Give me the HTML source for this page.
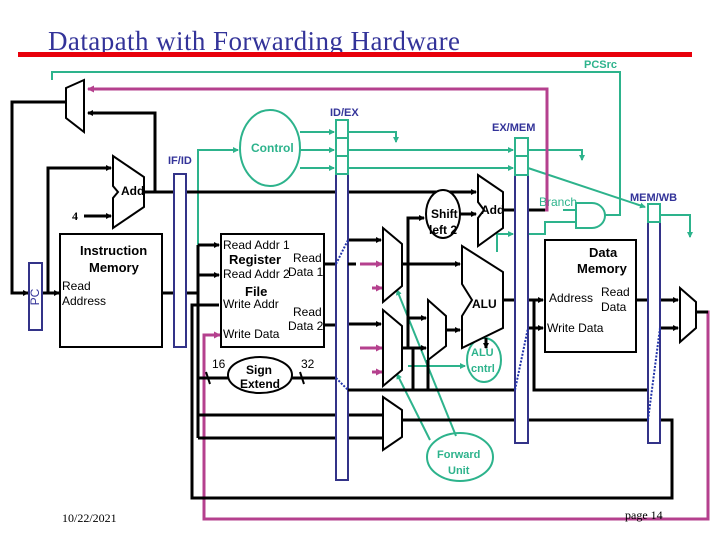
<!DOCTYPE html>
<html><head><meta charset="utf-8"><style>
body{margin:0;background:#fff}
svg{display:block}
text{font-family:"Liberation Sans",sans-serif}
</style></head><body>
<svg width="720" height="540" viewBox="0 0 720 540" xmlns="http://www.w3.org/2000/svg">
<defs>
<marker id="a" markerWidth="6" markerHeight="6" refX="5" refY="3" orient="auto" markerUnits="userSpaceOnUse"><path d="M0,0 L6,3 L0,6z" fill="#000"/></marker>
<marker id="t" markerWidth="6" markerHeight="6" refX="5" refY="3" orient="auto" markerUnits="userSpaceOnUse"><path d="M0,0 L6,3 L0,6z" fill="#2db38c"/></marker>
<marker id="p" markerWidth="7" markerHeight="7" refX="6" refY="3.5" orient="auto" markerUnits="userSpaceOnUse"><path d="M0,0 L7,3.5 L0,7z" fill="#b5408e"/></marker>
</defs>
<text x="48" y="50" font-size="27" fill="#333399" textLength="412" style="font-family:'Liberation Serif',serif">Datapath with Forwarding Hardware</text>
<rect x="18" y="52" width="674" height="5" fill="#e8000b"/>

<g stroke="#2db38c" stroke-width="2" fill="none">
<polyline points="52,80 52,72 620,72 620,215 605,215"/>
<ellipse cx="270" cy="148" rx="30" ry="38"/>
<polyline points="198,245 198,150 238,150" marker-end="url(#t)"/>
<line x1="300" y1="132" x2="334" y2="132" marker-end="url(#t)"/>
<line x1="300" y1="150" x2="334" y2="150" marker-end="url(#t)"/>
<line x1="300" y1="168" x2="334" y2="168" marker-end="url(#t)"/>
<polyline points="348,132 396,132 396,142" marker-end="url(#t)"/>
<line x1="348" y1="150" x2="513" y2="150" marker-end="url(#t)"/>
<line x1="348" y1="168" x2="513" y2="168" marker-end="url(#t)"/>
<polyline points="528,150 582,150 582,160" marker-end="url(#t)"/>
<line x1="528" y1="168" x2="645" y2="207" marker-end="url(#t)"/>
<polyline points="660,215 690,215 690,237" marker-end="url(#t)"/>
<polyline points="497,252 497,234 513,234" marker-end="url(#t)"/>
<polyline points="528,234 545,234 545,222 576,222"/>
<line x1="563" y1="210" x2="576" y2="210"/>
<ellipse cx="484" cy="360" rx="17" ry="22"/>
<line x1="408" y1="366" x2="465" y2="366" marker-end="url(#t)"/>
<ellipse cx="460" cy="457" rx="33" ry="24"/>
<line x1="430" y1="440" x2="397" y2="374" marker-end="url(#t)"/>
<line x1="456" y1="436" x2="397" y2="290" marker-end="url(#t)"/>
<path d="M576,203 L592,203 A13,12.5 0 0 1 592,228 L576,228 Z"/>
</g>
<text x="584" y="68" font-size="11" font-weight="bold" fill="#2db38c">PCSrc</text>
<text x="251" y="152" font-size="12" font-weight="bold" fill="#2db38c">Control</text>
<text x="539" y="206" font-size="12" fill="#2db38c">Branch</text>
<text x="471" y="356" font-size="11" font-weight="bold" fill="#2db38c">ALU</text>
<text x="471" y="372" font-size="11" font-weight="bold" fill="#2db38c">cntrl</text>
<text x="437" y="458" font-size="11" font-weight="bold" fill="#2db38c">Forward</text>
<text x="448" y="474" font-size="11" font-weight="bold" fill="#2db38c">Unit</text>

<g stroke="#b5408e" stroke-width="3" fill="none">
<polyline points="545,210 547,210 547,89 88,89" marker-end="url(#p)"/>
<polyline points="696,312 708,312 708,519 204,519 204,335 220,335" marker-end="url(#p)"/>
<line x1="360" y1="264" x2="382" y2="264" marker-end="url(#p)"/>
<line x1="372" y1="288" x2="382" y2="288" marker-end="url(#p)"/>
<line x1="360" y1="348" x2="382" y2="348" marker-end="url(#p)"/>
<line x1="372" y1="372" x2="382" y2="372" marker-end="url(#p)"/>
</g>

<g stroke="#000" stroke-width="3" fill="none">
<polyline points="66,102 12,102 12,293 28,293" marker-end="url(#a)"/>
<line x1="42" y1="293" x2="59" y2="293" marker-end="url(#a)"/>
<polyline points="48,293 48,168 111,168" marker-end="url(#a)"/>
<line x1="84" y1="216" x2="111" y2="216" marker-end="url(#a)"/>
<polyline points="155,192 155,113 88,113" marker-end="url(#a)"/>
<line x1="144" y1="192" x2="476" y2="192" marker-end="url(#a)"/>
<line x1="162" y1="293" x2="198" y2="293"/>
<line x1="198" y1="245" x2="198" y2="438"/>
<line x1="198" y1="245" x2="219" y2="245" marker-end="url(#a)"/>
<line x1="198" y1="275" x2="219" y2="275" marker-end="url(#a)"/>
<polyline points="219,305 192,305 192,498 672,498 672,420 402,420"/>
<line x1="198" y1="378" x2="336" y2="378"/>
<line x1="198" y1="415" x2="382" y2="415"/>
<line x1="198" y1="438" x2="382" y2="438"/>
<line x1="324" y1="264" x2="336" y2="264"/>
<line x1="324" y1="325" x2="336" y2="325"/>
<line x1="348" y1="240" x2="381" y2="240" marker-end="url(#a)"/>
<line x1="348" y1="324" x2="381" y2="324" marker-end="url(#a)"/>
<line x1="348" y1="390" x2="515" y2="390"/>
<line x1="402" y1="264" x2="460" y2="264" marker-end="url(#a)"/>
<polyline points="402,348 408,348 408,218 424,218" marker-end="url(#a)"/>
<line x1="408" y1="318" x2="426" y2="318" marker-end="url(#a)"/>
<line x1="402" y1="348" x2="426" y2="348" marker-end="url(#a)"/>
<line x1="413" y1="348" x2="413" y2="390"/>
<line x1="428" y1="360" x2="428" y2="390"/>
<line x1="460" y1="214" x2="476" y2="214" marker-end="url(#a)"/>
<line x1="446" y1="330" x2="460" y2="330" marker-end="url(#a)"/>
<line x1="486" y1="338" x2="486" y2="348" marker-end="url(#a)"/>
<line x1="503" y1="210" x2="545" y2="210"/>
<line x1="503" y1="300" x2="543" y2="300" marker-end="url(#a)"/>
<polyline points="534,300 534,390 648,390"/>
<line x1="528" y1="328" x2="543" y2="328" marker-end="url(#a)"/>
<line x1="636" y1="300" x2="678" y2="300" marker-end="url(#a)"/>
<line x1="660" y1="328" x2="678" y2="328" marker-end="url(#a)"/>
<line x1="696" y1="312" x2="708" y2="312"/>
</g>
<g stroke="#000" stroke-width="2" fill="#fff">
<rect x="60" y="234" width="102" height="113"/>
<rect x="221" y="234" width="103" height="113"/>
<rect x="545" y="240" width="91" height="112"/>
<ellipse cx="260" cy="375" rx="32" ry="18"/>
<ellipse cx="443" cy="214" rx="17" ry="24"/>
<path d="M66,88 L84,80 L84,132 L66,118 Z"/>
<path d="M113,156 L144,177 L144,207 L113,228 L113,198 L118,192 L113,186 Z"/>
<path d="M478,175 L503,192 L503,228 L478,246 L478,218 L484,210 L478,202 Z"/>
<path d="M462,246 L503,272 L503,328 L462,348 L462,316 L472,300 L462,284 Z"/>
<path d="M383,228 L402,244 L402,286 L383,302 Z"/>
<path d="M383,310 L402,326 L402,370 L383,386 Z"/>
<path d="M383,397 L402,410 L402,437 L383,450 Z"/>
<path d="M428,300 L446,316 L446,346 L428,360 Z"/>
<path d="M680,288 L696,302 L696,328 L680,342 Z"/>
</g>
<g stroke="#000" stroke-width="2"><line x1="206" y1="372" x2="210" y2="384"/><line x1="300" y1="372" x2="304" y2="384"/></g>

<g stroke="#333388" stroke-width="2" fill="#fff">
<rect x="29" y="263" width="13" height="67"/>
<rect x="174" y="174" width="12" height="173"/>
<rect x="336" y="120" width="12" height="360"/>
<rect x="515" y="138" width="13" height="305"/>
<rect x="648" y="204" width="12" height="239"/>
</g>
<g stroke="#2db38c" stroke-width="2" fill="#fff">
<rect x="336" y="120" width="12" height="18"/><rect x="336" y="138" width="12" height="18"/><rect x="336" y="156" width="12" height="18"/>
<rect x="515" y="138" width="13" height="18"/><rect x="515" y="156" width="13" height="19"/>
<rect x="648" y="204" width="12" height="18"/>
</g>
<g stroke="#2233aa" stroke-width="2" stroke-dasharray="2,1.5" fill="none">
<line x1="336" y1="264" x2="348" y2="240"/>
<line x1="336" y1="378" x2="348" y2="390"/>
<line x1="515" y1="390" x2="528" y2="328"/>
<line x1="648" y1="420" x2="660" y2="328"/>
</g>
<g stroke="#000" stroke-width="3"><line x1="348" y1="264" x2="356" y2="264"/><line x1="348" y1="390" x2="356" y2="390"/></g>

<text x="36" y="300" font-size="12" fill="#333399" transform="rotate(-90 36 297)" text-anchor="middle">PC</text>
<g font-size="11" fill="#333399" font-weight="bold">
<text x="168" y="164">IF/ID</text><text x="330" y="116">ID/EX</text>
<text x="492" y="131">EX/MEM</text><text x="630" y="201">MEM/WB</text>
</g>
<g font-size="12" fill="#000">
<text x="121" y="195" font-weight="bold">Add</text>
<text x="72" y="220" font-weight="bold" style="font-family:'Liberation Serif',serif">4</text>
<text x="80" y="255" font-size="13" font-weight="bold">Instruction</text>
<text x="89" y="272" font-size="13" font-weight="bold">Memory</text>
<text x="62" y="290">Read</text><text x="62" y="305">Address</text>
<text x="223" y="249">Read Addr 1</text>
<text x="229" y="264" font-size="13" font-weight="bold">Register</text>
<text x="293" y="262">Read</text>
<text x="223" y="278">Read Addr 2</text><text x="288" y="276">Data 1</text>
<text x="245" y="296" font-size="13" font-weight="bold">File</text>
<text x="223" y="308">Write Addr</text>
<text x="293" y="316">Read</text><text x="288" y="330">Data 2</text>
<text x="223" y="338">Write Data</text>
<text x="212" y="368">16</text><text x="301" y="368">32</text>
<text x="246" y="374" font-weight="bold">Sign</text>
<text x="240" y="388" font-weight="bold">Extend</text>
<text x="431" y="218" font-weight="bold">Shift</text>
<text x="429" y="234" font-weight="bold">left 2</text>
<text x="481" y="214" font-weight="bold">Add</text>
<text x="472" y="308" font-weight="bold">ALU</text>
<text x="589" y="257" font-size="13" font-weight="bold">Data</text>
<text x="577" y="273" font-size="13" font-weight="bold">Memory</text>
<text x="549" y="302">Address</text>
<text x="601" y="296">Read</text><text x="601" y="311">Data</text>
<text x="547" y="332">Write Data</text>
</g>
<text x="62" y="522" font-size="12" style="font-family:'Liberation Serif',serif">10/22/2021</text>
<text x="625" y="519" font-size="12" style="font-family:'Liberation Serif',serif">page 14</text>
</svg>
</body></html>
